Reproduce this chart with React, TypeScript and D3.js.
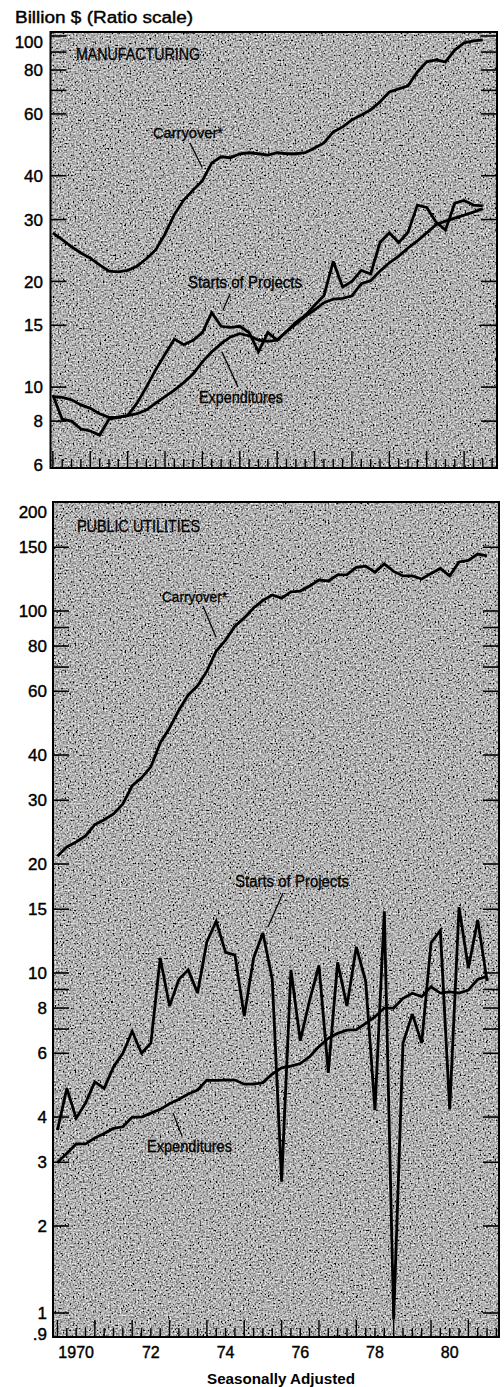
import React from "react";
import * as d3 from "d3";

// quarterly observations, 1970 Q1 .. 1981 Q3
const quarters = d3.range(47).map((i) => 1970 + i / 4);

// Manufacturing, billion $
const mfgCarryover = [27.5, 26.3, 25.1, 24.1, 23.3, 22.3, 21.4, 21.3, 21.5, 22.1, 23.2, 24.6, 27.3, 31.0, 34.1, 36.4, 38.7, 43.5, 45.3, 45.0, 46.2, 46.5, 46.2, 45.8, 46.5, 46.2, 46.2, 46.5, 48.0, 49.6, 53.3, 55.1, 57.7, 59.6, 61.6, 64.9, 69.3, 70.7, 72.1, 79.0, 84.4, 85.5, 84.4, 91.2, 95.6, 96.9, 97.5];
const mfgStarts = [9.5, 8.1, 8.0, 7.6, 7.5, 7.3, 8.1, 8.2, 8.3, 9.0, 10.0, 11.2, 12.4, 13.7, 13.2, 13.6, 14.3, 16.3, 14.9, 14.8, 14.9, 14.3, 12.6, 14.3, 13.6, 14.4, 15.3, 16.0, 17.1, 18.2, 22.8, 19.3, 20.0, 21.5, 21.0, 25.8, 27.5, 25.8, 27.6, 33.0, 32.5, 29.5, 28.0, 33.4, 34.0, 33.0, 32.8];
const mfgExpenditures = [9.4, 9.35, 9.2, 8.9, 8.7, 8.4, 8.2, 8.2, 8.3, 8.4, 8.6, 9.0, 9.4, 9.8, 10.3, 10.9, 11.8, 12.6, 13.3, 13.9, 14.2, 14.0, 13.6, 13.5, 13.6, 14.4, 15.1, 15.9, 16.6, 17.4, 17.8, 17.9, 18.2, 19.7, 20.1, 21.4, 22.6, 23.6, 24.9, 26.1, 27.5, 29.0, 29.7, 30.3, 30.9, 31.5, 32.2];

// Public utilities, billion $
const utilCarryover = [21.0, 22.3, 23.0, 23.9, 25.7, 26.5, 27.5, 29.3, 32.9, 34.6, 37.1, 43.2, 47.5, 53.2, 58.6, 62.1, 68.2, 77.5, 83.1, 90.8, 95.7, 101.9, 107, 110.7, 108.5, 113, 113.5, 117.2, 121.8, 121, 125.8, 126, 132, 133, 128, 134.9, 128.6, 125, 125, 122.5, 127, 131, 125, 136.6, 138, 143.6, 142];
const utilStarts = [3.68, 4.8, 3.97, 4.37, 5.0, 4.8, 5.5, 6.0, 6.9, 6.0, 6.4, 11.0, 8.1, 9.6, 10.2, 8.8, 12.2, 13.9, 11.4, 11.2, 7.6, 11.0, 12.9, 9.6, 2.65, 10.2, 6.5, 8.4, 10.5, 5.3, 10.7, 8.1, 11.8, 9.5, 4.18, 14.8, 0.97, 6.4, 7.7, 6.4, 12.1, 13.1, 4.2, 15.2, 10.3, 14.0, 9.5];
const utilExpenditures = [3.0, 3.17, 3.37, 3.37, 3.5, 3.6, 3.72, 3.76, 4.0, 4.0, 4.1, 4.2, 4.35, 4.48, 4.63, 4.75, 5.06, 5.05, 5.06, 5.06, 4.93, 4.93, 4.98, 5.26, 5.47, 5.53, 5.62, 5.87, 6.26, 6.6, 6.81, 6.95, 6.97, 7.26, 7.57, 8.0, 8.0, 8.51, 8.79, 8.6, 9.16, 8.8, 8.87, 8.8, 8.97, 9.6, 9.8];

// axis labels / tick values
const topTickLabels = [100, 80, 60, 40, 30, 20, 15, 10, 8, 6];
const topTickMarks = [100, 90, 80, 70, 60, 40, 30, 20, 15, 10, 8];
const botTickLabels = [200, 150, 100, 80, 60, 40, 30, 20, 15, 10, 8, 6, 4, 3, 2, 1, 0.9];
const botTickMarks = [150, 100, 90, 80, 70, 60, 40, 30, 20, 15, 10, 9, 8, 7, 6, 4, 3, 2, 1];
const yearLabels = ["1970", "72", "74", "76", "78", "80"];
const yearLabelYears = [1970, 1972, 1974, 1976, 1978, 1980];
const quarterTicks = d3.range(48).map((i) => 1970 + i / 4);

const FONT = "'Liberation Sans', Arial, Helvetica, sans-serif";

const fmt = (v: number) => (v < 1 ? ".9" : String(v));

type PanelProps = {
  frame: { left: number; right: number; top: number; bottom: number };
  x: d3.ScaleLinear<number, number>;
  y: d3.ScaleLogarithmic<number, number>;
  series: number[][];
  tickLabels: number[];
  tickMarks: number[];
  labelRight: number;
  id: string;
};

const Panel = ({ frame, x, y, series, tickLabels, tickMarks, labelRight, id }: PanelProps) => {
  const line = d3
    .line<number>()
    .x((_, i) => x(quarters[i]))
    .y((d) => y(d));
  const { left, right, top, bottom } = frame;
  return (
    <g>
      <clipPath id={`clip-${id}`}>
        <rect x={left} y={top} width={right - left} height={bottom - top} />
      </clipPath>
      <rect x={left} y={top} width={right - left} height={bottom - top} fill="#8e8e8e" />
      <rect
        x={left}
        y={top}
        width={right - left}
        height={bottom - top}
        filter="url(#grain)"
      />
      {/* y ticks, both sides */}
      {tickMarks.map((v) => (
        <g key={`t${v}`}>
          <line x1={left} x2={left + 16} y1={y(v)} y2={y(v)} stroke="#000" strokeWidth={1.6} />
          <line x1={right - 16} x2={right} y1={y(v)} y2={y(v)} stroke="#000" strokeWidth={1.6} />
        </g>
      ))}
      {/* quarter ticks along bottom */}
      {quarterTicks.map((q, i) => (
        <line
          key={`q${i}`}
          x1={x(q)}
          x2={x(q)}
          y1={bottom}
          y2={bottom - (i % 4 === 0 ? 17 : 9)}
          stroke="#000"
          strokeWidth={1.4}
        />
      ))}
      <g clipPath={`url(#clip-${id})`}>
        {series.map((s, k) => (
          <path
            key={k}
            d={line(s) || ""}
            fill="none"
            stroke="#000"
            strokeWidth={2.8}
            strokeLinejoin="miter"
            strokeMiterlimit={3}
          />
        ))}
      </g>
      <rect
        x={left}
        y={top}
        width={right - left}
        height={bottom - top}
        fill="none"
        stroke="#000"
        strokeWidth={2}
      />
      {tickLabels.map((v) => (
        <text
          key={`l${v}`}
          x={labelRight}
          y={Math.min(Math.max(y(v), top + 10), bottom - 3)}
          dy="0.36em"
          textAnchor="end"
          fontFamily={FONT}
          fontSize={17}
          stroke="#000"
          strokeWidth={0.4}
        >
          {fmt(v)}
        </text>
      ))}
    </g>
  );
};

const Label = ({ x, y, w, size, children }: any) => (
  <text
    x={x}
    y={y}
    fontFamily={FONT}
    fontSize={size}
    textLength={w}
    lengthAdjust="spacingAndGlyphs"
    fill="#000"
    stroke="#000"
    strokeWidth={0.3}
  >
    {children}
  </text>
);

const Pointer = ({ x1, y1, x2, y2 }: any) => (
  <line x1={x1} y1={y1} x2={x2} y2={y2} stroke="#000" strokeWidth={1.3} />
);

export default function App() {
  const topFrame = { left: 50.5, right: 497, top: 32, bottom: 468 };
  const botFrame = { left: 53, right: 499, top: 502, bottom: 1337 };

  const xTop = d3.scaleLinear().domain([1969.95, 1981.88]).range([51, 497]);
  const xBot = d3.scaleLinear().domain([1969.88, 1981.82]).range([53, 499]);

  const yTop = d3.scaleLog().domain([6, 100]).range([465, 36]);
  // the printed ratio scale is compressed below 2
  const yBot = d3.scaleLog().domain([0.9, 1, 2, 200]).range([1336, 1313, 1226, 502]);

  return (
    <svg
      width={504}
      height={1387}
      style={{ position: "absolute", left: 0, top: 0, background: "#fff" }}
    >
      <defs>
        <filter id="grain" x="0" y="0" width="100%" height="100%">
          <feTurbulence type="fractalNoise" baseFrequency="0.6" numOctaves={1} seed={7} result="t" />
          <feColorMatrix
            in="t"
            type="matrix"
            values="0.33 0.33 0.33 0 0  0.33 0.33 0.33 0 0  0.33 0.33 0.33 0 0  0 0 0 0 1"
            result="g"
          />
          <feComponentTransfer in="g">
            <feFuncR type="linear" slope={3.2} intercept={-1.15} />
            <feFuncG type="linear" slope={3.2} intercept={-1.15} />
            <feFuncB type="linear" slope={3.2} intercept={-1.15} />
          </feComponentTransfer>
        </filter>
      </defs>

      <text x={15} y={23} fontFamily={FONT} fontSize={16} textLength={178} lengthAdjust="spacingAndGlyphs" stroke="#000" strokeWidth={0.4}>
        Billion $ (Ratio scale)
      </text>

      <Panel
        id="mfg"
        frame={topFrame}
        x={xTop}
        y={yTop}
        series={[mfgCarryover, mfgStarts, mfgExpenditures]}
        tickLabels={topTickLabels}
        tickMarks={topTickMarks}
        labelRight={43}
      />
      <Label x={76} y={60} w={124} size={17}>MANUFACTURING</Label>
      <Label x={153} y={138} w={70} size={15}>Carryover*</Label>
      <Pointer x1={190} y1={143} x2={202} y2={167} />
      <Label x={188} y={288} w={114} size={16}>Starts of Projects</Label>
      <Pointer x1={230} y1={294} x2={223} y2={310} />
      <Label x={199} y={403} w={84} size={16}>Expenditures</Label>
      <Pointer x1={238} y1={387} x2={222} y2={352} />

      <Panel
        id="util"
        frame={botFrame}
        x={xBot}
        y={yBot}
        series={[utilCarryover, utilStarts, utilExpenditures]}
        tickLabels={botTickLabels}
        tickMarks={botTickMarks}
        labelRight={47}
      />
      <Label x={77} y={532} w={123} size={17}>PUBLIC UTILITIES</Label>
      <Label x={162} y={602} w={65} size={15}>Carryover*</Label>
      <Pointer x1={203} y1={606} x2={216} y2={637} />
      <Label x={235} y={887} w={114} size={16}>Starts of Projects</Label>
      <Pointer x1={283} y1={893} x2={268} y2={927} />
      <Label x={147} y={1152} w={85} size={16}>Expenditures</Label>
      <Pointer x1={173} y1={1113} x2={182} y2={1136} />

      {yearLabels.map((lab, i) => (
        <text
          key={lab}
          x={xBot(yearLabelYears[i] + 0.5)}
          y={1358}
          textAnchor="middle"
          fontFamily={FONT}
          fontSize={16}
          stroke="#000"
          strokeWidth={0.4}
        >
          {lab}
        </text>
      ))}
      <text x={207} y={1384} fontFamily={FONT} fontSize={14} fontWeight="bold" textLength={148} lengthAdjust="spacingAndGlyphs">
        Seasonally Adjusted
      </text>
    </svg>
  );
}
